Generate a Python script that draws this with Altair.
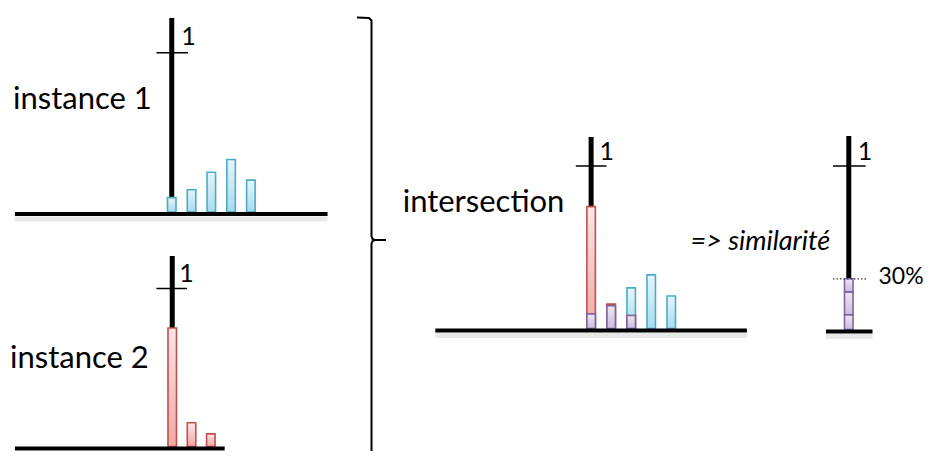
import altair as alt
import pandas as pd

# ---------------- data ----------------
instance1 = [0.09, 0.14, 0.25, 0.33, 0.20]
instance2 = [0.75, 0.15, 0.08]
bins1 = [0, 1, 2, 3, 4]
bins2 = [0, 1, 2]
label1 = "instance 1"
label2 = "instance 2"
label_inter = "intersection"
label_sim = "=> similarité"
label_pct = "30%"
tick_label = "1"

# ---------------- style / layout ----------------
FONT = "Lato"
BLACK = "#000000"
BLUE = ("#4bacc6", "#e6f5fb", "#a8dbee")
RED = ("#c0504d", "#fde6e6", "#f1a7a6")
PURPLE = ("#8064a2", "#eee9f4", "#c8bcde")
SHADOW = "#e2e2e2"
W, H = 916, 443          # whole canvas (page area minus 8px margin)
OX, OY = 8, 8            # page offset of the canvas


def grad(top, bottom):
    return alt.Gradient(
        gradient="linear",
        stops=[alt.GradientStop(color=top, offset=0), alt.GradientStop(color=bottom, offset=1)],
        x1=0, x2=0, y1=0, y2=1,
    )


class Frame:
    """Panel geometry on the shared canvas: baseline, unit height, first bar and bar step."""

    def __init__(self, base_y, unit, bx0, step):
        self.base_y, self.unit, self.bx0, self.step = base_y, unit, bx0, step

    def xi(self, px):
        return (px - self.bx0) / self.step

    def yv(self, py):
        return (self.base_y - py) / self.unit

    def X(self, field):
        return alt.X(field, type="quantitative", axis=None,
                     scale=alt.Scale(domain=[self.xi(OX), self.xi(OX + W)], nice=False, zero=False))

    def Y(self, field, **kw):
        return alt.Y(field, type="quantitative", axis=None,
                     scale=alt.Scale(domain=[self.yv(OY + H), self.yv(OY)], nice=False, zero=False), **kw)


def axis_layers(f, top_py, tick_l, tick_r, lab_x, lab_base):
    axis = alt.Chart(pd.DataFrame({"x": [0.0], "y": [0.0], "y1": [f.yv(top_py)]})).mark_rule(
        color=BLACK, strokeWidth=5).encode(x=f.X("x"), y=f.Y("y"), y2=alt.Y2("y1"))
    tick = alt.Chart(pd.DataFrame({"x": [f.xi(tick_l)], "x1": [f.xi(tick_r)], "y": [1.0]})).mark_rule(
        color=BLACK, strokeWidth=1.5).encode(x=f.X("x"), x2=alt.X2("x1"), y=f.Y("y"))
    lab = alt.Chart(pd.DataFrame({"x": [f.xi(lab_x)], "y": [f.yv(lab_base)], "t": [tick_label]})).mark_text(
        align="left", baseline="alphabetic", font=FONT, fontSize=25, color=BLACK).encode(
        x=f.X("x"), y=f.Y("y"), text="t:N")
    return [axis, tick, lab]


def baseline(f, l, r, width=4, shadow=True):
    df = pd.DataFrame({"x": [f.xi(l)], "x1": [f.xi(r)], "y": [0.0]})
    line = alt.Chart(df).mark_rule(color=BLACK, strokeWidth=width, yOffset=2).encode(
        x=f.X("x"), x2=alt.X2("x1"), y=f.Y("y"))
    if not shadow:
        return [line]
    shade = alt.Chart(df).mark_rule(color=SHADOW, strokeWidth=5, yOffset=7, opacity=0.8).encode(
        x=f.X("x"), x2=alt.X2("x1"), y=f.Y("y"))
    return [shade, line]


def text(f, px, py, s, size=31, italic=False):
    return alt.Chart(pd.DataFrame({"x": [f.xi(px)], "y": [f.yv(py)], "t": [s]})).mark_text(
        align="left", baseline="alphabetic", font=FONT, fontSize=size, color=BLACK,
        fontStyle="italic" if italic else "normal").encode(x=f.X("x"), y=f.Y("y"), text="t:N")


def bar_mark(col):
    return dict(fill=grad(col[1], col[2]), stroke=col[0], strokeWidth=1.6, width=8.5)


# ---------------- panel A: instance 1 ----------------
fA = Frame(212, 159.3, 168.5, 20)
dfA = pd.DataFrame({"i": bins1, "v": instance1, "z": 0.0})
barsA = alt.Chart(dfA).mark_bar(**bar_mark(BLUE)).encode(x=fA.X("i"), y=fA.Y("v"), y2=alt.Y2("z"))
pA = alt.layer(
    *axis_layers(fA, 18, 153, 185, 178, 45),
    barsA,
    *baseline(fA, 10, 326),
    text(fA, 8, 109, label1),
)

# ---------------- panel B: instance 2 ----------------
fB = Frame(446.5, 158, 169, 19.5)
dfB = pd.DataFrame({"i": bins2, "v": instance2, "z": 0.0})
barsB = alt.Chart(dfB).mark_bar(**bar_mark(RED)).encode(x=fB.X("i"), y=fB.Y("v"), y2=alt.Y2("z"))
pB = alt.layer(
    *axis_layers(fB, 256, 153, 184, 176, 282),
    barsB,
    *baseline(fB, 10, 222, shadow=False),
    text(fB, 5, 368, label2),
)

# ---------------- brace ----------------
brace_x = [357, 369, 371.5, 371.5, 372.5, 375, 386, 375, 372.5, 371.5, 371.5]
brace_y = [17.5, 18, 20.5, 236, 239, 240, 240, 240, 241, 244, 451]
dfBr = pd.DataFrame({"x": brace_x, "y": brace_y, "k": list(range(len(brace_x)))})
pBrace = alt.Chart(dfBr).mark_line(color=BLACK, strokeWidth=2).encode(
    x=alt.X("x:Q", axis=None, scale=alt.Scale(domain=[OX, OX + W], nice=False, zero=False)),
    y=alt.Y("y:Q", axis=None, scale=alt.Scale(domain=[OY, OY + H], nice=False, zero=False, reverse=True)),
    order="k:Q",
)

# ---------------- panel C: intersection ----------------
fC = Frame(328.5, 162.5, 592.5, 20.25)
inst2_full = instance2 + [0.0] * (len(instance1) - len(instance2))
dfC = pd.DataFrame({"i": bins1, "a": instance1, "b": inst2_full, "z": 0.0})
blueC = alt.Chart(dfC).mark_bar(**bar_mark(BLUE)).encode(x=fC.X("i"), y=fC.Y("a"), y2=alt.Y2("z"))
redC = alt.Chart(dfC).transform_filter("datum.b > 0").mark_bar(**bar_mark(RED)).encode(
    x=fC.X("i"), y=fC.Y("b"), y2=alt.Y2("z"))
purC = alt.Chart(dfC).transform_calculate(m="min(datum.a, datum.b)").transform_filter(
    "datum.m > 0").mark_bar(**bar_mark(PURPLE)).encode(x=fC.X("i"), y=fC.Y("m"), y2=alt.Y2("z"))
pC = alt.layer(
    *axis_layers(fC, 137, 577, 608, 601, 160),
    blueC, redC, purC,
    *baseline(fC, 435, 750),
    text(fC, 402, 211.5, label_inter),
    text(fC, 693, 250, label_sim, size=27, italic=True),
)

# ---------------- panel D: similarity ----------------
fD = Frame(329.5, 163.5, 853, 20)
stackD = alt.Chart(dfC).transform_calculate(m="min(datum.a, datum.b)").transform_filter(
    "datum.m > 0").transform_calculate(p="0").mark_bar(**bar_mark(PURPLE)).encode(
    x=fD.X("p"), y=fD.Y("m", stack="zero"), detail="i:N", order="i:Q")
totalD = alt.Chart(dfC).transform_calculate(m="min(datum.a, datum.b)").transform_aggregate(
    total="sum(m)")
dotD = totalD.transform_calculate(xl=str(fD.xi(837)), xr=str(fD.xi(871))).mark_rule(
    color="#333333", strokeWidth=1.3, strokeDash=[1.5, 2]).encode(
    x=fD.X("xl"), x2=alt.X2("xr"), y=fD.Y("total"))
pctD = totalD.transform_calculate(xl=str(fD.xi(883)), t="'" + label_pct + "'").mark_text(
    align="left", baseline="middle", font=FONT, fontSize=23, color=BLACK, dy=-2).encode(
    x=fD.X("xl"), y=fD.Y("total"), text="t:N")
pD = alt.layer(
    *axis_layers(fD, 136, 837, 870, 862, 160),
    stackD,
    dotD,
    pctD,
    *baseline(fD, 830, 877),
)

chart = alt.layer(pA, pB, pBrace, pC, pD).resolve_scale(
    x="independent", y="independent").properties(
    width=W, height=H, padding=0, background="white").configure_view(stroke=None)

chart.save("out.html", embed_options={"renderer": "svg", "actions": False})
